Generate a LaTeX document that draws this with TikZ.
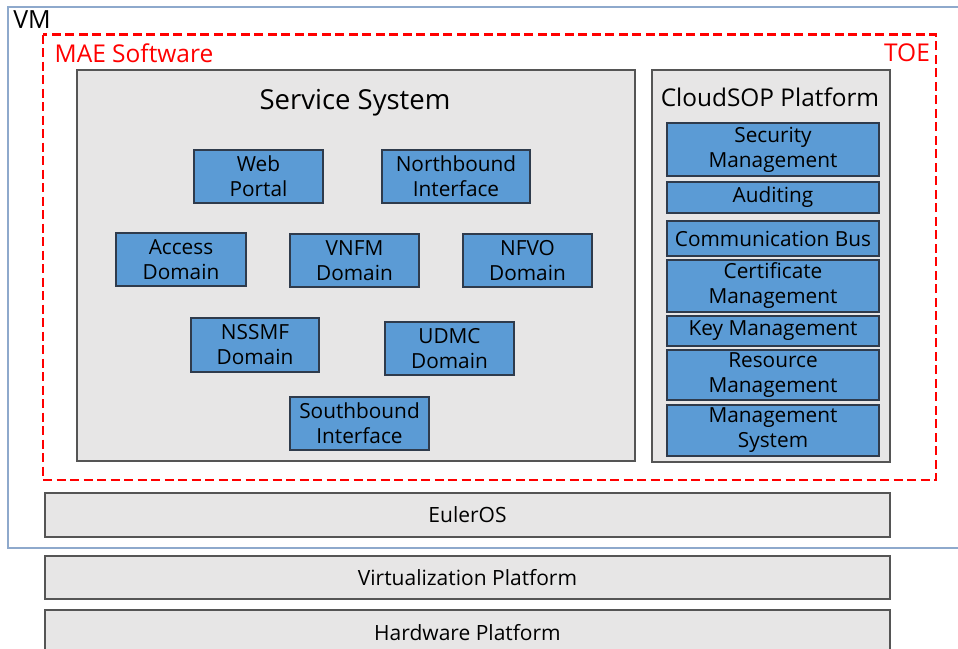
\documentclass[tikz,border=0pt]{standalone}
\usepackage{fontspec}
\setmainfont{Open Sans}
\definecolor{bluefill}{HTML}{5B9BD5}
\definecolor{bluedraw}{HTML}{2F3B4C}
\definecolor{grayfill}{HTML}{E7E6E6}
\definecolor{graydraw}{HTML}{555555}
\definecolor{vmdraw}{HTML}{8EA9CC}
\definecolor{toered}{HTML}{FF0000}
\tikzset{
  bluebox/.style={draw=bluedraw, fill=bluefill, line width=1.2pt, inner sep=0pt,
    align=center, font=\fontsize{20.8}{25}\selectfont},
  graybar/.style={draw=graydraw, fill=grayfill, line width=1.3pt, inner sep=0pt,
    minimum width=845pt, font=\fontsize{21}{25}\selectfont},
  container/.style={draw=graydraw, fill=grayfill, line width=1.3pt},
  titletext/.style={font=\fontsize{27.5}{30}\selectfont, inner sep=0pt},
  redtext/.style={text=toered, font=\fontsize{24.5}{28}\selectfont, inner sep=0pt},
}
\begin{document}
\begin{tikzpicture}[x=1pt,y=-1pt]
\useasboundingbox (0,0) rectangle (958,648);
% VM
\draw[vmdraw, line width=1.2pt] (8,7) rectangle (975,548);
\node[font=\fontsize{25}{28}\selectfont, inner sep=0pt] (vm) at (32,20) {VM};
% TOE dashed
\draw[toered, line width=2.2pt, dash pattern=on 9pt off 4.5pt] (43,34.5) rectangle (936,480);
\node[redtext] (mae) at (134,53) {MAE Software};
\node[redtext] (toe) at (907,53) {TOE};
% Service System
\node[container, minimum width=558pt, minimum height=391pt, inner sep=0pt] (svc) at (356,265.5) {};
\node[titletext] (svct) at (355,102.5) {Service System};
\node[bluebox, minimum width=129pt, minimum height=53pt] (web) at (258.5,176.5) {Web\\Portal};
\node[bluebox, minimum width=148pt, minimum height=53pt] (north) at (456,176.5) {Northbound\\Interface};
\node[bluebox, minimum width=130pt, minimum height=53pt] (access) at (181,259.5) {Access\\Domain};
\node[bluebox, minimum width=129pt, minimum height=53pt] (vnfm) at (354.5,260.5) {VNFM\\Domain};
\node[bluebox, minimum width=129pt, minimum height=53pt] (nfvo) at (527.5,260.5) {NFVO\\Domain};
\node[bluebox, minimum width=128pt, minimum height=54pt] (nssmf) at (255,345) {NSSMF\\Domain};
\node[bluebox, minimum width=129pt, minimum height=53pt] (udmc) at (449.5,348.5) {UDMC\\Domain};
\node[bluebox, minimum width=139pt, minimum height=53pt] (south) at (359.5,423.5) {Southbound\\Interface};
% CloudSOP
\node[container, minimum width=238pt, minimum height=392pt, inner sep=0pt] (cs) at (771,266) {};
\node[titletext, font=\fontsize{24.4}{28}\selectfont] (cst) at (770,97.5) {CloudSOP Platform};
\node[bluebox, minimum width=212pt, minimum height=53pt] (sec) at (773,149.5) {Security\\Management};
\node[bluebox, minimum width=212pt, minimum height=31pt] (aud) at (773,197.5) {Auditing};
\node[bluebox, minimum width=212pt, minimum height=35pt] (comm) at (773,238.5) {Communication Bus};
\node[bluebox, minimum width=212pt, minimum height=52pt] (cert) at (773,286) {Certificate\\Management};
\node[bluebox, minimum width=212pt, minimum height=30pt] (key) at (773,331) {Key Management};
\node[bluebox, minimum width=212pt, minimum height=50pt] (res) at (773,375) {Resource\\Management};
\node[bluebox, minimum width=212pt, minimum height=51pt] (msys) at (773,430.5) {Management\\System};
% bars
\node[graybar, minimum height=44pt] (euler) at (467.5,515) {EulerOS};
\node[graybar, minimum height=43pt] (virt) at (467.5,577.5) {Virtualization Platform};
\node[graybar, minimum height=50pt] (hw) at (467.5,635) {};
\node[font=\fontsize{21}{25}\selectfont, inner sep=0pt] (hwt) at (467.5,633) {Hardware Platform};
\end{tikzpicture}
\end{document}
